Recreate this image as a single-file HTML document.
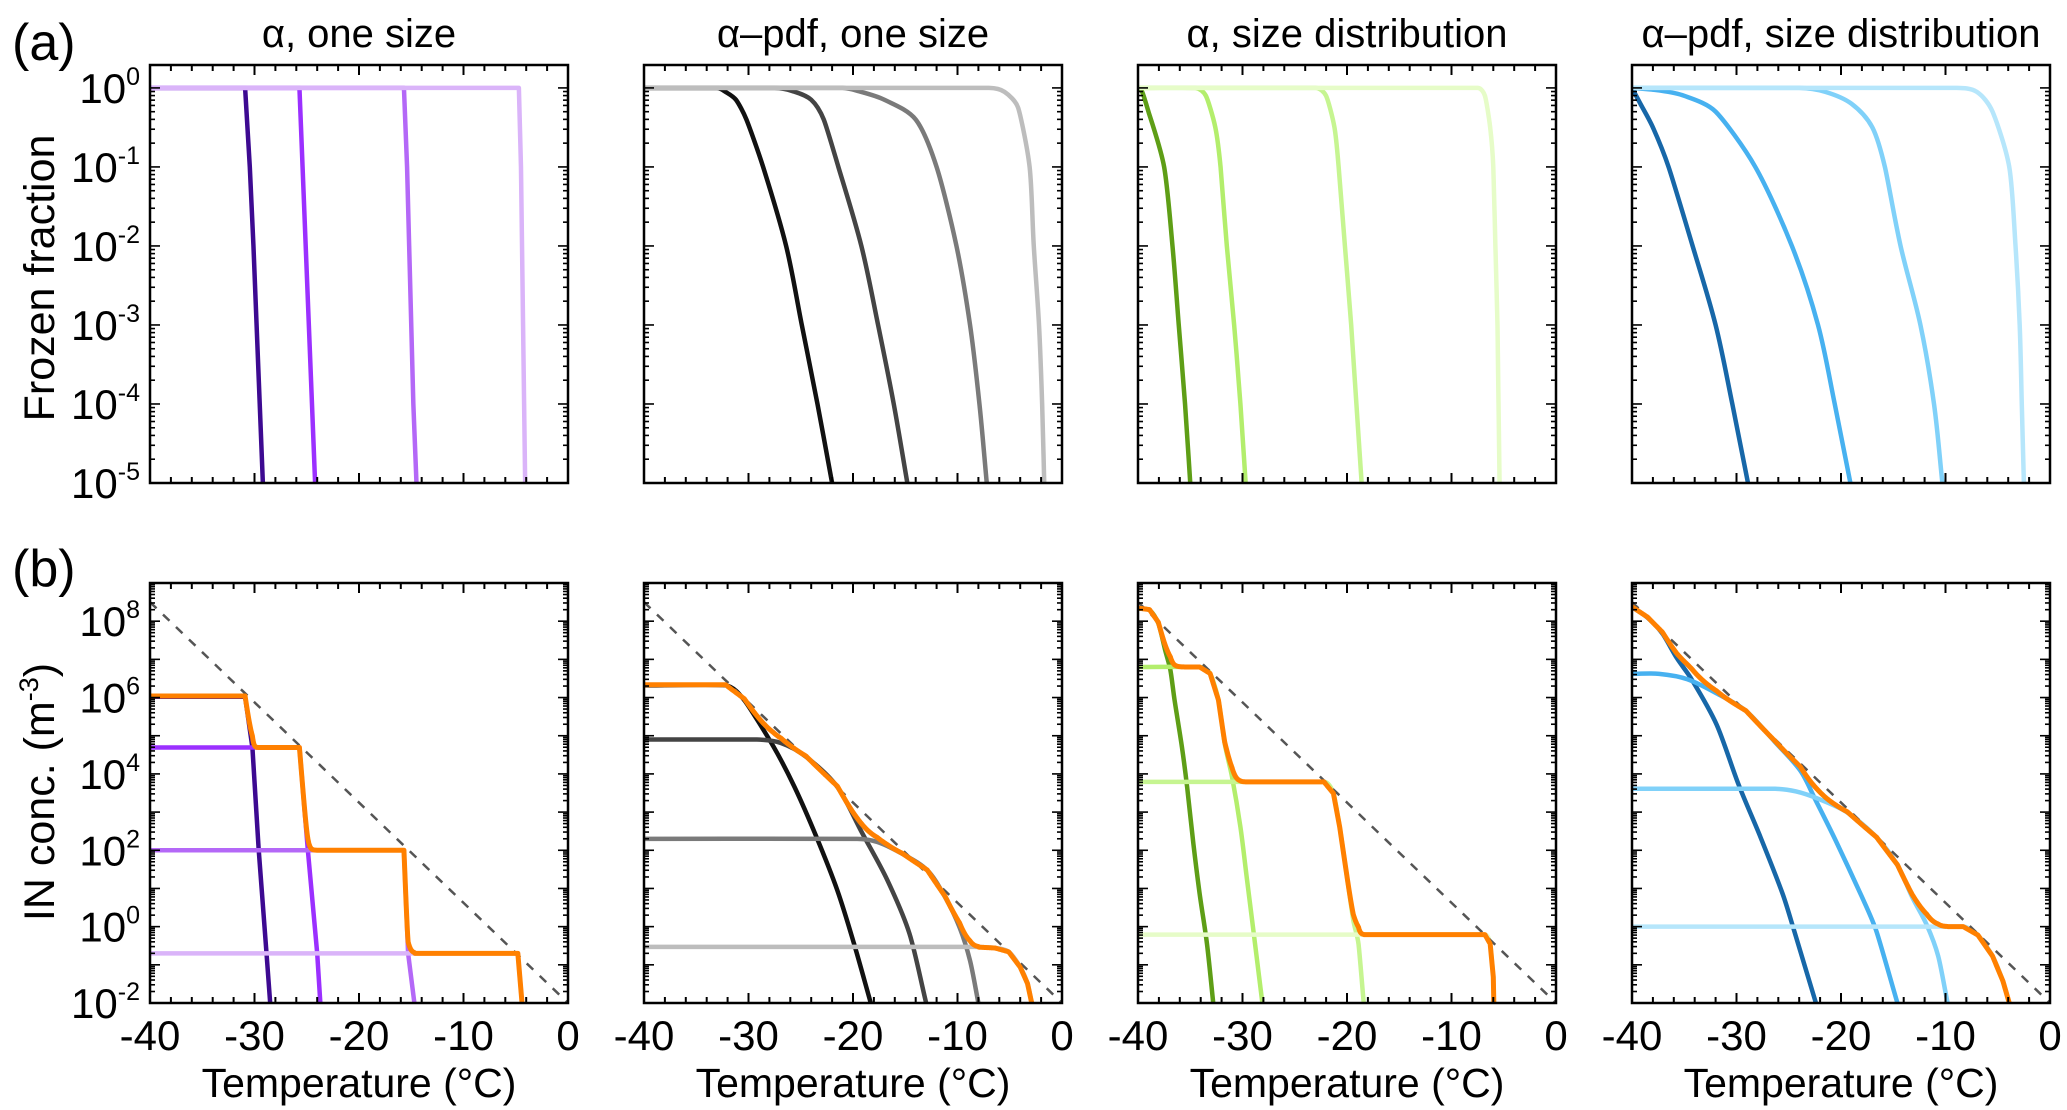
<!DOCTYPE html>
<html><head><meta charset="utf-8">
<style>
html,body{margin:0;padding:0;background:#fff;}
svg{display:block;}
text{font-family:"Liberation Sans",Arial,sans-serif;fill:#000;}
</style></head>
<body>
<svg id="fig" xmlns="http://www.w3.org/2000/svg" width="2067" height="1110" viewBox="0 0 2067 1110">
<rect x="0" y="0" width="2067" height="1110" fill="#fff"/>
<text x="12" y="60" font-size="52">(a)</text>
<text x="12" y="586" font-size="52">(b)</text>
<text transform="translate(54,278) rotate(-90)" text-anchor="middle" font-size="43">Frozen fraction</text>
<text transform="translate(54,792) rotate(-90)" text-anchor="middle" font-size="43">IN conc. (m<tspan font-size="27" dy="-16">-3</tspan><tspan dy="16">)</tspan></text>
</svg>
<script>
// ---------- data ----------
const panelTitles = ["α, one size", "α–pdf, one size", "α, size distribution", "α–pdf, size distribution"];
const xTicks = [-40, -30, -20, -10, 0];
const topYTicks = [0, -1, -2, -3, -4, -5];
const botYTicks = [8, 6, 4, 2, 0, -2];
const dashedT = [-40, 0];
const dashedLogN = [8.5, -2.0];

// top row: frozen fraction (log10) vs temperature
const c1Colors = ["#3d0a91", "#9b30ff", "#b468f7", "#dab4f9"];
const c1a_T = [-40, -30.9, -30.45, -30.1, -29.8, -29.5, -29.2];
const c1a_F = [0, 0, -1, -2, -3, -4, -5];
const c1b_T = [-40, -25.7, -25.4, -25.1, -24.8, -24.5, -24.2];
const c1b_F = [0, 0, -1, -2, -3, -4, -5];
const c1c_T = [-40, -15.7, -15.4, -15.2, -15.0, -14.8, -14.5];
const c1c_F = [0, 0, -1, -2, -3, -4, -5];
const c1d_T = [-40, -4.7, -4.5, -4.4, -4.3, -4.2, -4.1];
const c1d_F = [0, 0, -1, -2, -3, -4, -5];

const c2Colors = ["#111111", "#444444", "#7a7a7a", "#bdbdbd"];
const c2a_T = [-40, -33, -32.2, -31.2, -30.2, -28.6, -26.4, -24.9, -23.4, -22.0];
const c2a_F = [0, 0, -0.05, -0.15, -0.4, -1, -2, -3, -4, -5];
const c2b_T = [-40, -27.5, -25.8, -24, -22.8, -21.4, -19.2, -17.6, -16.1, -14.8];
const c2b_F = [0, 0, -0.04, -0.15, -0.4, -1, -2, -3, -4, -5];
const c2c_T = [-40, -21, -19.5, -17, -14, -12.0, -10.1, -8.8, -7.9, -7.2];
const c2c_F = [0, 0, -0.04, -0.15, -0.4, -1, -2, -3, -4, -5];
const c2d_T = [-40, -7, -5.5, -4.2, -3.1, -2.7, -2.2, -1.9, -1.7];
const c2d_F = [0, 0, -0.05, -0.25, -1, -2, -3, -4, -5];

const c3Colors = ["#5e9e16", "#b3ee6c", "#c6f591", "#e6fcc8"];
const c3a_T = [-40, -39.6, -39, -37.5, -36.7, -36.1, -35.5, -35.0];
const c3a_F = [0, -0.05, -0.3, -1, -2, -3, -4, -5];
const c3b_T = [-40, -34.5, -33.5, -32.6, -32.1, -31.5, -30.8, -30.2, -29.7];
const c3b_F = [0, 0, -0.1, -0.5, -1, -2, -3, -4, -5];
const c3c_T = [-40, -23, -22, -21.2, -20.8, -20.2, -19.6, -19.1, -18.6];
const c3c_F = [0, 0, -0.1, -0.5, -1, -2, -3, -4, -5];
const c3d_T = [-40, -7.5, -6.8, -6.3, -6.0, -5.8, -5.6, -5.5, -5.4];
const c3d_F = [0, 0, -0.1, -0.5, -1, -2, -3, -4, -5];

const c4Colors = ["#1767a8", "#47b1f0", "#80d1f9", "#b6e6fb"];
const c4a_T = [-40, -39.2, -38, -36.5, -34.2, -32.0, -30.4, -28.9];
const c4a_F = [0, -0.2, -0.5, -1, -2, -3, -4, -5];
const c4b_T = [-40, -37.5, -35, -32, -28.2, -24.7, -22.2, -20.6, -19.1];
const c4b_F = [0, -0.03, -0.1, -0.3, -1, -2, -3, -4, -5];
const c4c_T = [-40, -24, -21.5, -19, -17, -15.8, -14.3, -12.4, -11.1, -10.3];
const c4c_F = [0, 0, -0.05, -0.2, -0.5, -1, -2, -3, -4, -5];
const c4d_T = [-40, -9, -7, -5.5, -3.9, -3.3, -2.9, -2.7, -2.5];
const c4d_F = [0, 0, -0.05, -0.3, -1, -2, -3, -4, -5];

// bottom row: IN concentration (log10 m^-3) vs temperature
const b1a_T = [-40, -30.9, -30.2, -29.6, -28.85, -28.5];
const b1a_N = [6.02, 6.02, 4.69, 2.02, -0.7, -2];
const b1b_T = [-40, -25.7, -24.9, -24.0, -23.7];
const b1b_N = [4.69, 4.69, 2.02, -0.7, -2];
const b1c_T = [-40, -15.7, -15.3, -14.7];
const b1c_N = [2.0, 2.0, -0.7, -2];
const b1d_T = [-40, -4.8, -4.4];
const b1d_N = [-0.7, -0.7, -2];

const b2a_T = [-40, -32.2, -30.4, -27.6, -25.6, -23.5, -21.5, -19.9, -18.3];
const b2a_N = [6.32, 6.32, 5.93, 4.71, 3.66, 2.35, 0.95, -0.45, -2];
const b2b_T = [-40, -29.2, -26.9, -24.5, -21.5, -19.1, -16.7, -14.6, -13.0];
const b2b_N = [4.9, 4.9, 4.81, 4.45, 3.66, 2.44, 1.21, -0.18, -2];
const b2c_T = [-40, -19.6, -17.7, -15.3, -12.9, -11.2, -9.8, -8.8, -8.0];
const b2c_N = [2.30, 2.30, 2.22, 1.91, 1.48, 0.78, -0.02, -0.89, -2];
const b2d_T = [-40, -8.5, -6.4, -5.1, -4.0, -3.3, -2.9];
const b2d_N = [-0.53, -0.53, -0.56, -0.66, -1.06, -1.49, -2];

const b3a_T = [-40, -38.9, -38.05, -37.4, -36.9, -36.5, -35.8, -35.3, -34.7, -34.1, -33.4, -32.8];
const b3a_N = [8.33, 8.29, 7.94, 7.24, 6.72, 5.93, 4.71, 3.66, 2.17, 0.86, -0.45, -2];
const b3b_T = [-40, -34.1, -33.1, -32.3, -31.7, -31.0, -30.2, -29.6, -29.0, -28.1];
const b3b_N = [6.80, 6.80, 6.63, 5.93, 4.79, 3.92, 2.61, 1.30, -0.01, -2];
const b3c_T = [-40, -22.2, -21.3, -20.7, -20.0, -19.4, -18.9, -18.4];
const b3c_N = [3.79, 3.79, 3.49, 2.61, 1.30, 0.17, -0.45, -2];
const b3d_T = [-40, -6.8, -6.3, -6.0, -5.95];
const b3d_N = [-0.21, -0.21, -0.45, -1.32, -2];

const b4a_T = [-40, -38.5, -37.1, -35.7, -34.3, -31.9, -29.8, -27.7, -25.6, -24.6, -22.4];
const b4a_N = [8.37, 8.09, 7.68, 7.03, 6.48, 5.29, 3.72, 2.34, 0.87, 0, -2];
const b4b_T = [-40, -37.4, -34.7, -31.9, -29.1, -26.3, -23.9, -22.5, -20.5, -18.0, -16.6, -14.6];
const b4b_N = [6.62, 6.62, 6.48, 6.11, 5.65, 4.83, 4.09, 3.35, 2.25, 0.78, -0.13, -2];
const b4c_T = [-40, -26.3, -24.3, -22.2, -19.4, -16.6, -14.6, -13.2, -11.8, -10.7, -9.8];
const b4c_N = [3.61, 3.61, 3.54, 3.35, 2.99, 2.34, 1.61, 0.78, 0.05, -0.77, -2];
const b4d_T = [-40, -8.3, -6.9, -5.5, -4.5, -3.9];
const b4d_N = [0, 0, -0.22, -0.77, -1.43, -2];

// ---------- layout ----------
const svg = document.getElementById('fig');
const NS = 'http://www.w3.org/2000/svg';
const colLeft = [150, 644, 1138, 1632];
const colW = 418;
const topBox = {y0: 65, y1: 483, lmin: -5, lmax: 0.29};
const botBox = {y0: 583, y1: 1003, lmin: -2, lmax: 9};

function mk(tag, attrs, parent) {
  const e = document.createElementNS(NS, tag);
  for (const k in attrs) e.setAttribute(k, attrs[k]);
  (parent || svg).appendChild(e);
  return e;
}
function xScale(c, T) { return colLeft[c] + (T + 40) / 40 * colW; }
function yScale(box, l) { return box.y1 - (l - box.lmin) / (box.lmax - box.lmin) * (box.y1 - box.y0); }

function pathFrom(c, box, Ts, Ls) {
  let d = '';
  for (let i = 0; i < Ts.length; i++) {
    d += (i ? 'L' : 'M') + xScale(c, Ts[i]).toFixed(2) + ',' + yScale(box, Ls[i]).toFixed(2);
  }
  return d;
}
// smoothed path: tangent direction from neighbours, magnitude limited by the shorter adjacent segment
function smoothPath(c, box, Ts, Ls) {
  const P = Ts.map((T, i) => [xScale(c, T), yScale(box, Ls[i])]);
  const n = P.length;
  if (n < 3) return pathFrom(c, box, Ts, Ls);
  const dist = (a, b) => Math.hypot(b[0] - a[0], b[1] - a[1]);
  const tan = [];
  for (let i = 0; i < n; i++) {
    const a = P[Math.max(0, i - 1)], b = P[Math.min(n - 1, i + 1)];
    let dx = b[0] - a[0], dy = b[1] - a[1];
    const len = Math.hypot(dx, dy) || 1;
    tan.push([dx / len, dy / len]);
  }
  let d = 'M' + P[0][0].toFixed(2) + ',' + P[0][1].toFixed(2);
  for (let i = 0; i < n - 1; i++) {
    const p1 = P[i], p2 = P[i + 1];
    const segL = dist(p1, p2);
    const l1 = Math.min(segL, i > 0 ? dist(P[i - 1], p1) : segL) / 3;
    const l2 = Math.min(segL, i + 2 < n ? dist(p2, P[i + 2]) : segL) / 3;
    const c1x = p1[0] + tan[i][0] * l1, c1y = p1[1] + tan[i][1] * l1;
    const c2x = p2[0] - tan[i + 1][0] * l2, c2y = p2[1] - tan[i + 1][1] * l2;
    d += 'C' + c1x.toFixed(2) + ',' + c1y.toFixed(2) + ' ' + c2x.toFixed(2) + ',' + c2y.toFixed(2) + ' ' + p2[0].toFixed(2) + ',' + p2[1].toFixed(2);
  }
  return d;
}
function interp(Ts, Ls, T) {
  if (T <= Ts[0]) return Ls[0];
  if (T > Ts[Ts.length - 1]) return -Infinity;
  for (let i = 1; i < Ts.length; i++) {
    if (T <= Ts[i]) {
      const f = (T - Ts[i - 1]) / (Ts[i] - Ts[i - 1]);
      return Ls[i - 1] + f * (Ls[i] - Ls[i - 1]);
    }
  }
  return -Infinity;
}

function drawAxes(c, box, yTicks, showX, showY, row) {
  const g = mk('g', {});
  
  
  const x0 = colLeft[c], x1 = colLeft[c] + colW;
  for (let T = -40; T <= 0; T += 2) {
    const x = xScale(c, T);
    const L = (T % 10 === 0) ? 10 : 6;
    mk('line', {x1: x, x2: x, y1: box.y1, y2: box.y1 - L, stroke: '#000', 'stroke-width': 2}, g);
    mk('line', {x1: x, x2: x, y1: box.y0, y2: box.y0 + L, stroke: '#000', 'stroke-width': 2}, g);
  }
  for (let d = box.lmin; d <= Math.floor(box.lmax); d++) {
    for (let m = 1; m <= 9; m++) {
      const l = d + Math.log10(m);
      if (l > box.lmax) break;
      const y = yScale(box, l);
      const L = m === 1 ? 10 : 5;
      mk('line', {x1: x0, x2: x0 + L, y1: y, y2: y, stroke: '#000', 'stroke-width': 1.6}, g);
      mk('line', {x1: x1, x2: x1 - L, y1: y, y2: y, stroke: '#000', 'stroke-width': 1.6}, g);
    }
  }
  mk('rect', {x: x0, y: box.y0, width: colW, height: box.y1 - box.y0, fill: 'none', stroke: '#000', 'stroke-width': 2.5}, g);
  if (showX) {
    xTicks.forEach(T => {
      const t = mk('text', {x: xScale(c, T), y: 1050, 'text-anchor': 'middle', 'font-size': 42}, g);
      
      
      t.textContent = String(T);
    });
    const xl = mk('text', {x: x0 + colW / 2, y: 1097, 'text-anchor': 'middle', 'font-size': 41}, g);
    
    
    xl.textContent = 'Temperature (°C)';
  }
  if (showY) {
    yTicks.forEach(l => {
      const y = yScale(box, l);
      const t = mk('text', {x: 140, y: y + 15, 'text-anchor': 'end', 'font-size': 42}, g);
      
      
      const a = mk('tspan', {}, t); a.textContent = '10';
      const b = mk('tspan', {dy: -18, 'font-size': 25}, t); b.textContent = String(l);
    });
  }
}

function clipFor(c, box, id) {
  const cp = mk('clipPath', {id: id});
  mk('rect', {x: colLeft[c], y: box.y0, width: colW, height: box.y1 - box.y0}, cp);
  return 'url(#' + id + ')';
}

const topSeries = [
  [[c1a_T, c1a_F], [c1b_T, c1b_F], [c1c_T, c1c_F], [c1d_T, c1d_F]],
  [[c2a_T, c2a_F], [c2b_T, c2b_F], [c2c_T, c2c_F], [c2d_T, c2d_F]],
  [[c3a_T, c3a_F], [c3b_T, c3b_F], [c3c_T, c3c_F], [c3d_T, c3d_F]],
  [[c4a_T, c4a_F], [c4b_T, c4b_F], [c4c_T, c4c_F], [c4d_T, c4d_F]]
];
const botSeries = [
  [[b1a_T, b1a_N], [b1b_T, b1b_N], [b1c_T, b1c_N], [b1d_T, b1d_N]],
  [[b2a_T, b2a_N], [b2b_T, b2b_N], [b2c_T, b2c_N], [b2d_T, b2d_N]],
  [[b3a_T, b3a_N], [b3b_T, b3b_N], [b3c_T, b3c_N], [b3d_T, b3d_N]],
  [[b4a_T, b4a_N], [b4b_T, b4b_N], [b4c_T, b4c_N], [b4d_T, b4d_N]]
];
const colColors = [c1Colors, c2Colors, c3Colors, c4Colors];

for (let c = 0; c < 4; c++) {
  const tt = mk('text', {x: colLeft[c] + colW / 2, y: 47, 'text-anchor': 'middle', 'font-size': 40});
  
  
  tt.textContent = panelTitles[c];

  const pathFn = c === 0 ? pathFrom : smoothPath;

  const clipT = clipFor(c, topBox, 'clipT' + c);
  const gT = mk('g', {'clip-path': clipT});
  
  
  topSeries[c].forEach((s, i) => {
    const p = mk('path', {d: pathFn(c, topBox, s[0], s[1]), fill: 'none', stroke: colColors[c][i], 'stroke-width': 4.5, 'stroke-linejoin': 'round'}, gT);
    
    
  });
  drawAxes(c, topBox, topYTicks, false, c === 0, 'top');

  const clipB = clipFor(c, botBox, 'clipB' + c);
  const gB = mk('g', {'clip-path': clipB});
  
  
  botSeries[c].forEach((s, i) => {
    const p = mk('path', {d: pathFn(c, botBox, s[0], s[1]), fill: 'none', stroke: colColors[c][i], 'stroke-width': 4.5, 'stroke-linejoin': 'round'}, gB);
    
    
  });
  const sT = [], sN = [];
  for (let T = -40; T <= 0.001; T += 0.05) {
    let tot = 0;
    botSeries[c].forEach(s => { const l = interp(s[0], s[1], T); if (l > -50) tot += Math.pow(10, l); });
    if (tot <= 0) break;
    sT.push(T); sN.push(Math.max(Math.log10(tot), -2.3));
  }
  const dsh = mk('path', {d: pathFrom(c, botBox, dashedT, dashedLogN), fill: 'none', stroke: '#555', 'stroke-width': 2.5, 'stroke-dasharray': '9,9'}, gB);
  
  
  const or = mk('path', {d: pathFrom(c, botBox, sT, sN), fill: 'none', stroke: '#ff8000', 'stroke-width': 5, 'stroke-linejoin': 'round'}, gB);
  
  
  drawAxes(c, botBox, botYTicks, true, c === 0, 'bottom');
}
</script>
</body></html>
